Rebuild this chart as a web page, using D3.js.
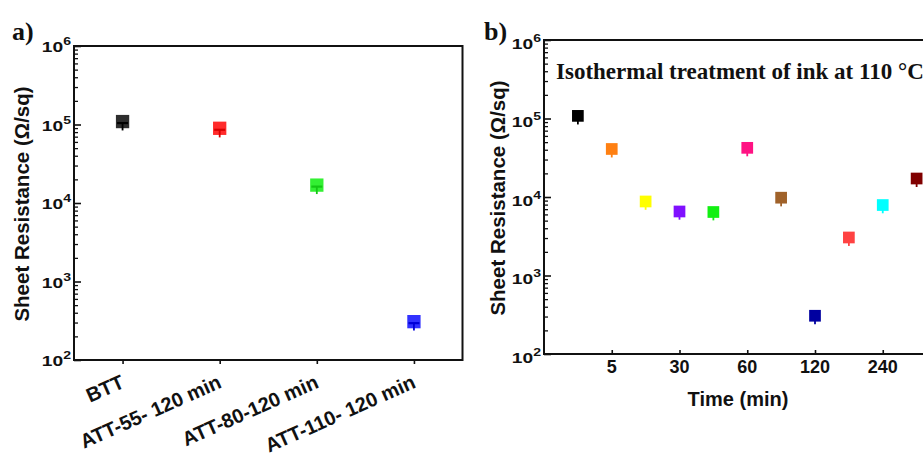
<!DOCTYPE html>
<html>
<head>
<meta charset="utf-8">
<script src="https://cdn.jsdelivr.net/npm/d3@7/dist/d3.min.js"></script>
<style>
  html, body { margin: 0; padding: 0; background: #fff; }
  svg { display: block; }
</style>
</head>
<body>
<svg id="chart" width="923" height="458"></svg>
<script>
// ---- Panel a: sheet resistance per treatment ----
const categoriesA = ["BTT", "ATT-55- 120 min", "ATT-80-120 min", "ATT-110- 120 min"];
const valuesA = [1.09e5, 8.95e4, 1.69e4, 308];
const errorsA = [2.5e4, 2.1e4, 3.9e3, 70];
const fillA = ["#2e2e2e", "#ff2b2b", "#33f033", "#3232ff"];
const barA = ["#000000", "#d80000", "#14c814", "#0000d8"];

// ---- Panel b: isothermal treatment at 110 °C ----
const timesB = ["0", "5", "15", "30", "45", "60", "90", "120", "180", "240", "300"];
const labeledTimesB = ["5", "30", "60", "120", "240"];
const valuesB = [1.08e5, 4.09e4, 8.77e3, 6.54e3, 6.44e3, 4.23e4, 9.8e3, 307, 3.05e3, 7.9e3, 1.72e4];
const errorsB = [2.4e4, 9e3, 1.9e3, 1.4e3, 1.4e3, 9.3e3, 2.2e3, 68, 670, 1.7e3, 3.8e3];
const fillB = ["#000000", "#ff8012", "#ffff00", "#8010ff", "#12f012", "#ff1283",
               "#a0622a", "#0000a0", "#ff4242", "#00ffff", "#800000"];

// Shared log axis decades
const decadeExponents = [2, 3, 4, 5, 6];

const svg = d3.select("#chart");
const ink = "#111";
const sans = "'Liberation Sans', Arial, sans-serif";
const serif = "'Liberation Serif', 'Times New Roman', serif";

function minorValues(exps) {
  const out = [];
  for (let e = exps[0]; e < exps[exps.length - 1]; e++)
    for (let m = 2; m <= 9; m++) out.push(m * Math.pow(10, e));
  return out;
}

function logAxis(g, y, x0, labelDy) {
  const majors = decadeExponents.map(e => Math.pow(10, e));
  g.append("g").attr("transform", `translate(${x0},0)`)
    .call(d3.axisLeft(y).tickValues(majors).tickSizeInner(-7).tickSizeOuter(0).tickFormat(""))
    .call(a => a.select(".domain").remove())
    .call(a => a.selectAll("line").attr("stroke", ink).attr("stroke-width", 1.6));
  g.append("g").attr("transform", `translate(${x0},0)`)
    .call(d3.axisLeft(y).tickValues(minorValues(decadeExponents)).tickSizeInner(-4).tickSizeOuter(0).tickFormat(""))
    .call(a => a.select(".domain").remove())
    .call(a => a.selectAll("line").attr("stroke", ink).attr("stroke-width", 1.3));
  decadeExponents.forEach(e => {
    const t = g.append("text")
      .attr("transform", `translate(${x0 - 3},${y(Math.pow(10, e)) + labelDy}) scale(1.28,1)`)
      .attr("text-anchor", "end")
      .attr("font-family", sans).attr("font-weight", "bold")
      .attr("font-size", 15).attr("fill", ink);
    t.append("tspan").text("10");
    t.append("tspan").attr("dy", -7).attr("font-size", 11).text(e);
  });
}

function markers(g, xs, ys, vals, errs, fills, bars, size, capW) {
  const pts = vals.map((v, i) => ({ x: xs(i), y: ys(v), lo: ys(v - errs[i]), i }));
  const grp = g.append("g");
  grp.selectAll("rect").data(pts).join("rect")
    .attr("x", d => d.x - size / 2).attr("y", d => d.y - size / 2)
    .attr("width", size).attr("height", size)
    .attr("fill", d => fills[d.i]);
  grp.selectAll("line.stem").data(pts).join("line").attr("class", "stem")
    .attr("x1", d => d.x).attr("x2", d => d.x)
    .attr("y1", d => d.y + 1).attr("y2", d => d.lo)
    .attr("stroke", d => bars[d.i]).attr("stroke-width", 1.8);
  if (capW > 0) {
    grp.selectAll("line.cap").data(pts).join("line").attr("class", "cap")
      .attr("x1", d => d.x - capW / 2).attr("x2", d => d.x + capW / 2)
      .attr("y1", d => d.y + 1.5).attr("y2", d => d.y + 1.5)
      .attr("stroke", d => bars[d.i]).attr("stroke-width", 2.2);
  }
}

// ================= Panel a =================
const xA = d3.scaleLinear().domain([0.5, 4.5]).range([74, 462.5]);
const yA = d3.scaleLog().domain([1e2, 1e6]).range([360, 46]);
const gA = svg.append("g");

gA.append("rect")
  .attr("x", xA.range()[0]).attr("y", yA.range()[1])
  .attr("width", xA.range()[1] - xA.range()[0])
  .attr("height", yA.range()[0] - yA.range()[1])
  .attr("fill", "none").attr("stroke", ink).attr("stroke-width", 2);

gA.append("g").attr("transform", `translate(0,${yA.range()[0]})`)
  .call(d3.axisBottom(xA).tickValues([1, 2, 3, 4]).tickSizeInner(4).tickSizeOuter(0).tickFormat(""))
  .call(a => a.select(".domain").remove())
  .call(a => a.selectAll("line").attr("stroke", ink).attr("stroke-width", 1.6));

categoriesA.forEach((c, i) => {
  gA.append("text")
    .attr("transform", `translate(${xA(i + 1) + 3},${yA.range()[0] + 27}) rotate(-24)`)
    .attr("text-anchor", "end")
    .attr("font-family", sans).attr("font-weight", "bold")
    .attr("font-size", 20).attr("fill", ink)
    .text(c);
});

logAxis(gA, yA, xA.range()[0], 6);

markers(gA, i => xA(i + 1), yA, valuesA, errorsA, fillA, barA, 13.3, 11);

gA.append("text")
  .attr("transform", `translate(29,${(yA.range()[0] + yA.range()[1]) / 2 + 1}) rotate(-90)`)
  .attr("text-anchor", "middle")
  .attr("font-family", sans).attr("font-weight", "bold")
  .attr("font-size", 20.5).attr("fill", ink)
  .text("Sheet Resistance (\u03A9/sq)");

gA.append("text").attr("x", 12).attr("y", 40)
  .attr("font-family", serif).attr("font-weight", "bold")
  .attr("font-size", 26).attr("fill", ink).text("a)");

// ================= Panel b =================
const xB = d3.scaleLinear().domain([-1, 11]).range([544, 950.5]);
const yB = d3.scaleLog().domain([1e2, 1e6]).range([354, 40]);
const gB = svg.append("g");

const bx0 = xB.range()[0], bx1 = xB.range()[1];
gB.append("path")
  .attr("d", `M${bx1},${yB.range()[1]}H${bx0}V${yB.range()[0]}H${bx1}`)
  .attr("fill", "none").attr("stroke", ink).attr("stroke-width", 2);

const labeledIdx = labeledTimesB.map(t => timesB.indexOf(t));
gB.append("g").attr("transform", `translate(0,${yB.range()[0]})`)
  .call(d3.axisBottom(xB).tickValues(labeledIdx).tickSizeInner(-4).tickSizeOuter(0).tickFormat(""))
  .call(a => a.select(".domain").remove())
  .call(a => a.selectAll("line").attr("stroke", ink).attr("stroke-width", 1.6));

labeledIdx.forEach(i => {
  gB.append("text")
    .attr("x", xB(i)).attr("y", yB.range()[0] + 19)
    .attr("text-anchor", "middle")
    .attr("font-family", sans).attr("font-weight", "bold")
    .attr("font-size", 18).attr("fill", ink)
    .text(timesB[i]);
});

logAxis(gB, yB, bx0, 8.5);

markers(gB, i => xB(i), yB, valuesB, errorsB, fillB, fillB, 11.7, 0);

gB.append("text")
  .attr("x", 738).attr("y", 406)
  .attr("text-anchor", "middle")
  .attr("font-family", sans).attr("font-weight", "bold")
  .attr("font-size", 20).attr("fill", ink)
  .text("Time (min)");

gB.append("text")
  .attr("transform", `translate(505,${(yB.range()[0] + yB.range()[1]) / 2 + 1}) rotate(-90)`)
  .attr("text-anchor", "middle")
  .attr("font-family", sans).attr("font-weight", "bold")
  .attr("font-size", 20.5).attr("fill", ink)
  .text("Sheet Resistance (\u03A9/sq)");

gB.append("text").attr("x", 556).attr("y", 79)
  .attr("font-family", serif).attr("font-weight", "bold")
  .attr("font-size", 23).attr("fill", ink)
  .text("Isothermal treatment of ink at 110 \u00B0C");

gB.append("text").attr("x", 484).attr("y", 40)
  .attr("font-family", serif).attr("font-weight", "bold")
  .attr("font-size", 26).attr("fill", ink).text("b)");
</script>
</body>
</html>
